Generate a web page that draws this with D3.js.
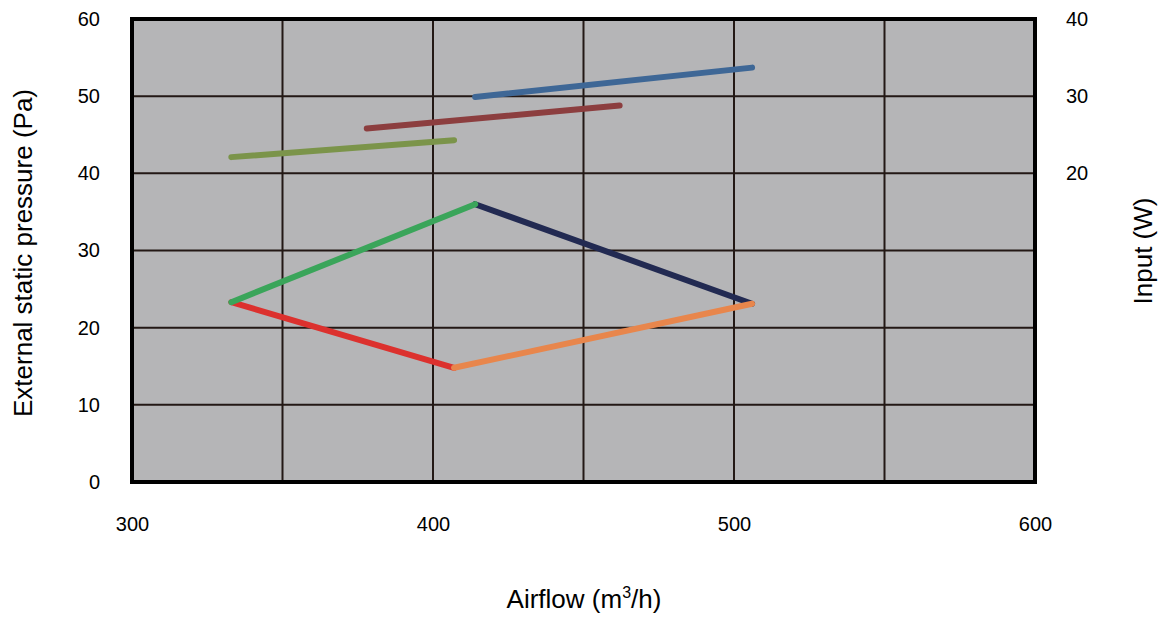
<!DOCTYPE html>
<html><head><meta charset="utf-8">
<script src="https://cdn.jsdelivr.net/npm/d3@7"></script>
<style>body{margin:0;background:#fff}text{font-family:"Liberation Sans",Arial,sans-serif;fill:#000}</style>
</head><body><svg id="c" width="1164" height="619"></svg>
<script>
// Data
const xTickLabels = [300, 400, 500, 600];
const xGrid = [350, 400, 450, 500, 550];
const yLeftTicks = [0, 10, 20, 30, 40, 50, 60];
const yRightTicks = [20, 30, 40];
// External static pressure curves (airflow, Pa)
const pressureUpperRise = [[333, 23.3], [414, 36.0]];
const pressureUpperFall = [[414, 36.0], [506, 23.1]];
const pressureLowerFall = [[333, 23.3], [407, 14.8]];
const pressureLowerRise = [[407, 14.8], [506, 23.1]];
// Input power lines (airflow, W)
const inputLow = [[333, 22.1], [407, 24.3]];
const inputMid = [[378, 25.8], [462, 28.8]];
const inputHigh = [[414, 29.9], [506, 33.7]];

const svg = d3.select("#c");
const L = 132, R = 1035, T = 19, B = 482;
const x = d3.scaleLinear().domain([300, 600]).range([L, R]);
const yL = d3.scaleLinear().domain([0, 60]).range([B, T]);
const yR = d3.scaleLinear().domain([-20, 40]).range([B, T]);

svg.append("rect").attr("x", L).attr("y", T).attr("width", R - L).attr("height", B - T).attr("fill", "#b5b5b7");

const g = svg.append("g");
g.selectAll(".vg").data(xGrid).join("line")
  .attr("x1", d => x(d)).attr("x2", d => x(d)).attr("y1", T).attr("y2", B)
  .attr("stroke", "#231815").attr("stroke-width", 2);
g.selectAll(".hg").data(yLeftTicks.filter(d => d > 0 && d < 60)).join("line")
  .attr("y1", d => yL(d)).attr("y2", d => yL(d)).attr("x1", L).attr("x2", R)
  .attr("stroke", "#231815").attr("stroke-width", 2);

const line = (ys) => d3.line().x(d => x(d[0])).y(d => ys(d[1]));
const series = [
  [inputLow, yR, "#7b944a"],
  [inputMid, yR, "#8c3e3f"],
  [inputHigh, yR, "#3e6796"],
  [pressureUpperFall, yL, "#222a52"],
  [pressureLowerFall, yL, "#dc312e"],
  [pressureUpperRise, yL, "#3aa55a"],
  [pressureLowerRise, yL, "#e8864c"]
];
series.forEach(([data, ys, col]) => {
  svg.append("path").datum(data).attr("d", line(ys)).attr("fill", "none")
    .attr("stroke", col).attr("stroke-width", 6).attr("stroke-linecap", "round");
});

svg.append("rect").attr("x", L).attr("y", T).attr("width", R - L).attr("height", B - T)
  .attr("fill", "none").attr("stroke", "#000").attr("stroke-width", 4);

const ax = svg.append("g").attr("transform", `translate(0,${B})`)
  .call(d3.axisBottom(x).tickValues(xTickLabels).tickSize(0).tickPadding(35).tickFormat(d3.format("d")));
const ayl = svg.append("g").attr("transform", `translate(${L},0)`)
  .call(d3.axisLeft(yL).tickValues(yLeftTicks).tickSize(0).tickPadding(32));
const ayr = svg.append("g").attr("transform", `translate(${R},0)`)
  .call(d3.axisRight(yR).tickValues(yRightTicks).tickSize(0).tickPadding(31));
[ax, ayl, ayr].forEach(a => {
  a.select(".domain").remove();
  a.selectAll("text").attr("font-size", 20).attr("font-family", "Liberation Sans, Arial, sans-serif").attr("fill", "#000");
});

const xt = svg.append("text").attr("x", 584).attr("y", 608).attr("text-anchor", "middle").attr("font-size", 26);
xt.append("tspan").text("Airflow (m");
xt.append("tspan").text("3").attr("font-size", 16).attr("dy", -10);
xt.append("tspan").text("/h)").attr("dy", 10);

svg.append("text").attr("transform", "translate(32,253) rotate(-90)").attr("text-anchor", "middle")
  .attr("font-size", 26).text("External static pressure (Pa)");
svg.append("text").attr("transform", "translate(1152,251) rotate(-90)").attr("text-anchor", "middle")
  .attr("font-size", 26).text("Input (W)");
</script></body></html>
